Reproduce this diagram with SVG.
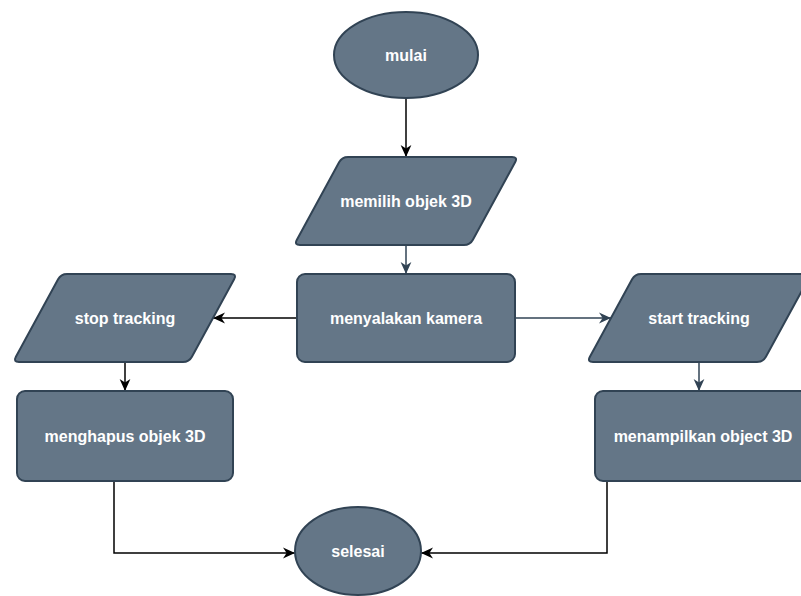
<svg xmlns="http://www.w3.org/2000/svg" xmlns:xlink="http://www.w3.org/1999/xlink" width="801" height="596" viewBox="0 0 801 596">
<style>
.n{fill:#647687;stroke:#314354;stroke-width:2}
.t{fill:#ffffff;font-family:"Liberation Sans",Arial,sans-serif;font-size:16px;font-weight:bold;text-anchor:middle;dominant-baseline:central}
.c{fill:none;stroke-width:1.5}
.k{stroke:#000000}
.s{stroke:#314354}
</style>
<defs>
<path id="para" d="M 54 0 L 218 0 Q 224 0 221.1 5.3 L 178.9 82.7 Q 176 88 170 88 L 6 88 Q 0 88 2.9 82.7 L 45.1 5.3 Q 48 0 54 0 Z"/>
<marker id="ak" markerUnits="userSpaceOnUse" markerWidth="12" markerHeight="12" viewBox="0 0 10 10" refX="10" refY="5" orient="auto"><path d="M0 0.5 L10 5 L0 9.5 L3 5 Z" fill="#000000"/></marker>
<marker id="as" markerUnits="userSpaceOnUse" markerWidth="12" markerHeight="12" viewBox="0 0 10 10" refX="10" refY="5" orient="auto"><path d="M0 0.5 L10 5 L0 9.5 L3 5 Z" fill="#314354"/></marker>
</defs>
<rect width="801" height="596" fill="#ffffff"/>
<g id="connectors">
<path class="c k" d="M406 98 L406 157" marker-end="url(#ak)"/>
<path class="c s" d="M406 245 L406 274" marker-end="url(#as)"/>
<path class="c k" d="M297 318 L213 318" marker-end="url(#ak)"/>
<path class="c s" d="M515 318 L611 318" marker-end="url(#as)"/>
<path class="c k" d="M125 362 L125 391" marker-end="url(#ak)"/>
<path class="c s" d="M699 362 L699 391" marker-end="url(#as)"/>
<path class="c k" d="M114 481 L114 553 L295 553" marker-end="url(#ak)"/>
<path class="c k" d="M607 481 L607 553 L421 553" marker-end="url(#ak)"/>
</g>
<g id="mulai"><ellipse class="n" cx="406" cy="55" rx="72" ry="43"/><text class="t" x="406" y="55">mulai</text></g>
<g id="memilih"><use href="#para" class="n" transform="translate(294,157)"/><text class="t" x="406" y="201">memilih objek 3D</text></g>
<g id="menyalakan"><rect class="n" x="297" y="274" width="218" height="88" rx="8"/><text class="t" x="406" y="318">menyalakan kamera</text></g>
<g id="stop"><use href="#para" class="n" transform="translate(13,274)"/><text class="t" x="125" y="318">stop tracking</text></g>
<g id="start"><use href="#para" class="n" transform="translate(587,274)"/><text class="t" x="699" y="318">start tracking</text></g>
<g id="menghapus"><rect class="n" x="17" y="391" width="216" height="90" rx="8"/><text class="t" x="125" y="436">menghapus objek 3D</text></g>
<g id="menampilkan"><rect class="n" x="595" y="391" width="216" height="90" rx="8"/><text class="t" x="703" y="436">menampilkan object 3D</text></g>
<g id="selesai"><ellipse class="n" cx="358" cy="551" rx="63" ry="44"/><text class="t" x="358" y="551">selesai</text></g>
</svg>
